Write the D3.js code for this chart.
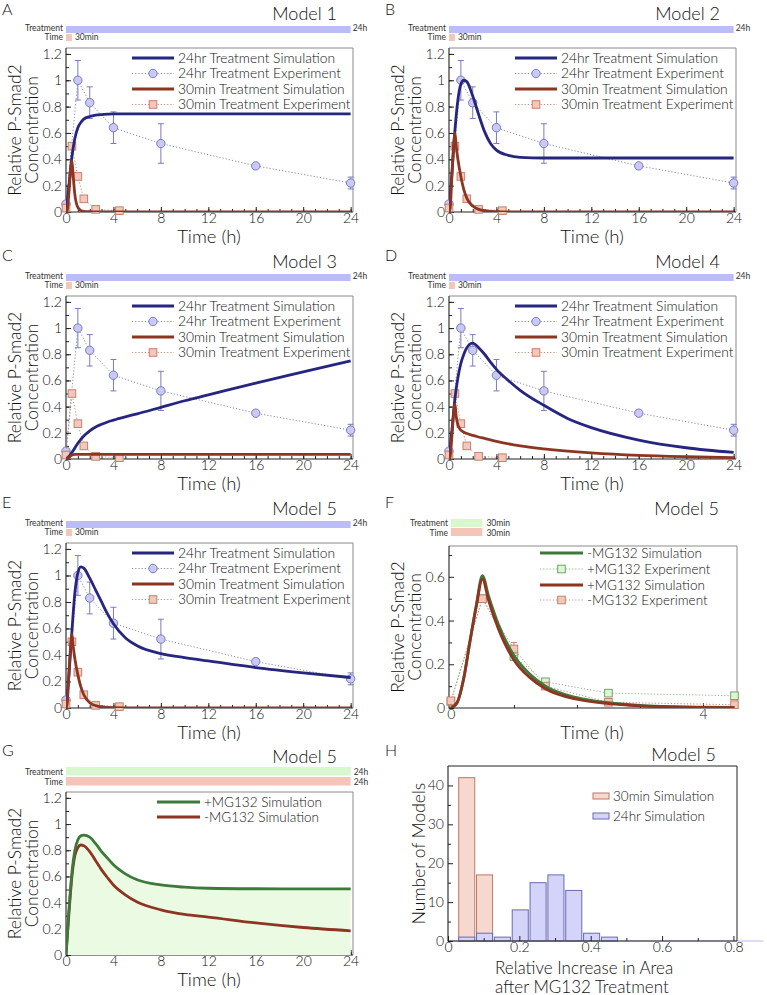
<!DOCTYPE html>
<html><head><meta charset="utf-8">
<script src="https://cdn.jsdelivr.net/npm/d3@7"></script>
<style>
body{margin:0;background:#fff}
svg{display:block}
svg text{font-weight:300}
svg text.small{font-weight:400}
</style></head><body>
<svg id="chart" width="767" height="995"></svg>
<script>
// ---------------- DATA ----------------
const expTimes24 = [0, 1, 2, 4, 8, 16, 24];
const exp24 = [0.06, 1.0, 0.83, 0.64, 0.52, 0.35, 0.22];
const exp24Err = [0.02, 0.15, 0.12, 0.12, 0.15, 0.015, 0.045];
const expTimes30 = [0, 0.5, 1, 1.5, 2.5, 4.5];
const exp30 = [0.03, 0.5, 0.27, 0.10, 0.02, 0.01];
const exp30Err = [0.008, 0.012, 0.02, 0.012, 0.008, 0.006];

const simTimes24 = [0, 0.25, 0.5, 0.75, 1, 1.25, 1.5, 2, 2.5, 3, 3.5, 4, 5, 6, 8, 10, 12, 16, 20, 24];
const simTimes30 = [0, 0.1, 0.25, 0.4, 0.5, 0.6, 0.75, 1, 1.25, 1.5, 2, 2.5, 3, 4, 6, 8, 12, 16, 20, 24];

const m1Sim24 = [0, 0.2, 0.42, 0.56, 0.64, 0.68, 0.705, 0.725, 0.735, 0.74, 0.743, 0.745, 0.745, 0.745, 0.745, 0.745, 0.745, 0.745, 0.745, 0.745];
const m1Sim30 = [0, 0.01, 0.15, 0.33, 0.39, 0.28, 0.13, 0.035, 0.012, 0.005, 0.002, 0.001, 0, 0, 0, 0, 0, 0, 0, 0];
const m2Sim24 = [0, 0.3, 0.62, 0.85, 0.97, 1.0, 0.99, 0.88, 0.74, 0.61, 0.52, 0.47, 0.43, 0.415, 0.41, 0.41, 0.41, 0.41, 0.41, 0.41];
const m2Sim30 = [0, 0.03, 0.28, 0.52, 0.6, 0.51, 0.4, 0.27, 0.17, 0.105, 0.045, 0.02, 0.01, 0.002, 0, 0, 0, 0, 0, 0];
const m3Sim24 = [0, 0.02, 0.05, 0.085, 0.12, 0.15, 0.175, 0.215, 0.245, 0.265, 0.283, 0.297, 0.322, 0.345, 0.395, 0.445, 0.49, 0.58, 0.665, 0.75];
const m3Sim30 = [0, 0.003, 0.012, 0.024, 0.03, 0.033, 0.035, 0.035, 0.035, 0.035, 0.035, 0.035, 0.035, 0.035, 0.035, 0.035, 0.035, 0.035, 0.035, 0.035];
const m4Sim24 = [0, 0.22, 0.46, 0.62, 0.73, 0.8, 0.85, 0.885, 0.85, 0.8, 0.74, 0.685, 0.6, 0.525, 0.41, 0.31, 0.24, 0.145, 0.086, 0.05];
const m4Sim30 = [0, 0.02, 0.18, 0.36, 0.42, 0.33, 0.26, 0.22, 0.205, 0.195, 0.18, 0.168, 0.157, 0.135, 0.1, 0.077, 0.046, 0.027, 0.017, 0.011];
const m5Sim24 = [0, 0.25, 0.58, 0.87, 1.02, 1.065, 1.055, 0.98, 0.89, 0.8, 0.71, 0.635, 0.53, 0.47, 0.41, 0.38, 0.355, 0.305, 0.265, 0.23];
const m5Sim30 = [0, 0.03, 0.27, 0.48, 0.56, 0.47, 0.37, 0.25, 0.16, 0.1, 0.04, 0.018, 0.008, 0.002, 0, 0, 0, 0, 0, 0];

// Panel F (short treatment, +/- MG132)
const fSimTimes = [0, 0.1, 0.2, 0.3, 0.4, 0.5, 0.6, 0.75, 1, 1.25, 1.5, 2, 2.5, 3, 3.5, 4, 4.5];
const fMinusSim = [0, 0.025, 0.13, 0.3, 0.465, 0.605, 0.51, 0.385, 0.24, 0.155, 0.1, 0.047, 0.024, 0.012, 0.006, 0.004, 0.003];
const fPlusSim  = [0, 0.025, 0.13, 0.3, 0.46, 0.59, 0.49, 0.365, 0.22, 0.14, 0.088, 0.04, 0.02, 0.01, 0.005, 0.003, 0.002];
const fExpTimes = [0, 0.5, 1, 1.5, 2.5, 4.5];
const fPlusExp = [0.03, 0.5, 0.235, 0.12, 0.068, 0.056];
const fPlusErr = [0.008, 0.01, 0.015, 0.015, 0.01, 0.012];
const fMinusExp = [0.033, 0.5, 0.27, 0.1, 0.026, 0.015];
const fMinusErr = [0.008, 0.01, 0.03, 0.012, 0.008, 0.008];

// Panel G (24 h, +/- MG132)
const gPlusSim  = [0, 0.35, 0.63, 0.8, 0.88, 0.91, 0.915, 0.9, 0.85, 0.79, 0.74, 0.69, 0.62, 0.575, 0.535, 0.518, 0.51, 0.506, 0.505, 0.505];
const gMinusSim = [0, 0.32, 0.6, 0.76, 0.82, 0.84, 0.835, 0.79, 0.72, 0.65, 0.59, 0.535, 0.46, 0.405, 0.345, 0.31, 0.29, 0.245, 0.21, 0.185];

// Panel H (histogram)
const binLo = [0.03, 0.08, 0.13, 0.18, 0.23, 0.28, 0.33, 0.38, 0.43];
const binHi = [0.075, 0.125, 0.175, 0.225, 0.275, 0.325, 0.375, 0.425, 0.475];
const count30 = [42, 17, 0, 0, 0, 0, 0, 0, 0];
const count24 = [1, 2, 1, 8, 15, 17, 13, 2, 1];

// tick labels
const yTicksMain = [0, 0.2, 0.4, 0.6, 0.8, 1, 1.2];
const xTicksMain = [0, 4, 8, 12, 16, 20, 24];
const yTicksF = [0, 0.2, 0.4, 0.6];
const xTicksF = [0, 4];
const xTicksH = [0, 0.2, 0.4, 0.6, 0.8];
const yTicksH = [0, 10, 20, 30, 40];

// ---------------- STYLE ----------------
const FONT = 'Lato, "Open Sans", sans-serif';
const C = {
  navy: '#262680', red: '#8e3522', green: '#3d7a3a',
  lav: '#bdbdf6', pink: '#f4c6ba', lgreen: '#d8f7cd', gfill: '#ebfbe3',
  circFill: '#c9c9f3', circStroke: '#7b7bc0', circLine: '#8888c4',
  sqFill: '#f3c8bb', sqStroke: '#c4826f', sqLine: '#c48a7a',
  gsqFill: '#dff6d6', gsqStroke: '#6aa864', gsqLine: '#84b67e',
  axis: '#222', box: '#8a8a8a', text: '#111'
};
const BARFONT = 8.5;
const svg = d3.select('#chart').style('font-family', FONT);

function txt(x, y, s, size, anchor) {
  const t = svg.append('text').attr('x', x).attr('y', y).text(s)
    .attr('font-size', size).attr('fill', C.text).attr('text-anchor', anchor || 'start');
  if (size < 10) t.attr('class', 'small').attr('fill', '#333');
  return t;
}

function axes(g, x, y, o) {
  const [yb, yt] = y.range(), [xl, xr] = x.range();
  const fmt = d => String(d);
  const styleAx = s => { s.select('.domain').remove(); s.selectAll('line').attr('stroke', C.axis);
    s.selectAll('text').attr('font-size', o.tickFont || 14).attr('font-family', FONT).attr('fill', C.text); };
  g.append('g').attr('transform', `translate(0,${yb})`)
    .call(d3.axisBottom(x).tickValues(o.xMinor).tickSize(-3).tickFormat('')).call(styleAx);
  g.append('g').attr('transform', `translate(0,${yb})`)
    .call(d3.axisBottom(x).tickValues(o.xMajor).tickSize(-5).tickPadding(o.xPad != null ? o.xPad : 1.5).tickFormat(fmt)).call(styleAx);
  g.append('g').attr('transform', `translate(${xl},0)`)
    .call(d3.axisLeft(y).tickValues(o.yMinor).tickSize(-3).tickFormat('')).call(styleAx);
  g.append('g').attr('transform', `translate(${xl},0)`)
    .call(d3.axisLeft(y).tickValues(o.yMajor).tickSize(-5).tickPadding(4).tickFormat(fmt)).call(styleAx);
  g.append('path').attr('d', `M${xl},${yt}H${xr}V${yb}`).attr('fill', 'none').attr('stroke', o.boxColor || C.box).attr('stroke-width', 1);
  g.append('path').attr('d', `M${xl},${yt}V${yb}H${xr}`).attr('fill', 'none').attr('stroke', C.axis).attr('stroke-width', 1.1);
}

function yTitle(xc, yc, lines, size) {
  lines.forEach((s, i) => {
    svg.append('text').attr('transform', `translate(${xc + i * 17},${yc}) rotate(-90)`)
      .attr('text-anchor', 'middle').attr('font-size', size || 17.5).attr('fill', C.text).text(s);
  });
}

function simLine(g, x, y, ts, vs, color, w) {
  g.append('path').datum(d3.zip(ts, vs))
    .attr('d', d3.line().x(d => x(d[0])).y(d => y(d[1])).curve(d3.curveMonotoneX))
    .attr('fill', 'none').attr('stroke', color).attr('stroke-width', w || 2.8).attr('stroke-linejoin', 'round');
}

function drawMarker(g, cx, cy, marker, fill, stroke) {
  if (marker === 'circle') {
    g.append('circle').attr('cx', cx).attr('cy', cy).attr('r', 4.2).attr('fill', fill).attr('stroke', stroke).attr('stroke-width', 1);
  } else {
    g.append('rect').attr('x', cx - 3.8).attr('y', cy - 3.8).attr('width', 7.6).attr('height', 7.6).attr('fill', fill).attr('stroke', stroke).attr('stroke-width', 1);
  }
}

function expSeries(g, x, y, ts, vs, es, marker, fill, stroke, lineCol) {
  const pts = d3.zip(ts, vs, es);
  g.append('path').datum(pts)
    .attr('d', d3.line().x(d => x(d[0])).y(d => y(d[1])))
    .attr('fill', 'none').attr('stroke', lineCol).attr('stroke-width', 1).attr('stroke-dasharray', '1.2,2');
  pts.forEach(d => {
    const cx = x(d[0]), lo = y(d[1] - d[2]), hi = y(d[1] + d[2]);
    g.append('path').attr('d', `M${cx},${lo}V${hi}M${cx - 3},${lo}H${cx + 3}M${cx - 3},${hi}H${cx + 3}`)
      .attr('stroke', stroke).attr('stroke-width', 1).attr('fill', 'none');
  });
  pts.forEach(d => drawMarker(g, x(d[0]), y(d[1]), marker, fill, stroke));
}

function legend(g, x0, x1, tx, rows, items, size) {
  items.forEach((it, i) => {
    const cy = rows[i];
    if (it.kind === 'sim') {
      g.append('line').attr('x1', x0).attr('x2', x1).attr('y1', cy).attr('y2', cy).attr('stroke', it.color).attr('stroke-width', 3);
    } else {
      g.append('line').attr('x1', x0).attr('x2', x1).attr('y1', cy).attr('y2', cy).attr('stroke', it.line).attr('stroke-width', 1).attr('stroke-dasharray', '1.2,2');
      drawMarker(g, (x0 + x1) / 2, cy, it.marker, it.fill, it.stroke);
    }
    g.append('text').attr('x', tx).attr('y', cy).attr('dy', '0.35em').attr('font-size', size || 13.8).attr('fill', C.text).text(it.label);
  });
}

function clipG(id, x, y) {
  const [xl, xr] = x.range(), [yb, yt] = y.range();
  svg.append('clipPath').attr('id', id).append('rect').attr('x', xl).attr('y', yt).attr('width', xr - xl).attr('height', yb - yt);
  return svg.append('g').attr('clip-path', `url(#${id})`);
}

// ---------------- PANELS A–E ----------------
const mainPanels = [
  { ox: 0,   top: 48,  bottom: 212, letter: 'A', letterY: 15,  title: 'Model 1', s24: m1Sim24, s30: m1Sim30 },
  { ox: 383, top: 48,  bottom: 212, letter: 'B', letterY: 15,  title: 'Model 2', s24: m2Sim24, s30: m2Sim30 },
  { ox: 0,   top: 296, bottom: 459, letter: 'C', letterY: 261, title: 'Model 3', s24: m3Sim24, s30: m3Sim30 },
  { ox: 383, top: 296, bottom: 459, letter: 'D', letterY: 261, title: 'Model 4', s24: m4Sim24, s30: m4Sim30 },
  { ox: 0,   top: 543, bottom: 708, letter: 'E', letterY: 508, title: 'Model 5', s24: m5Sim24, s30: m5Sim30 }
];

mainPanels.forEach(p => {
  const x = d3.scaleLinear().domain([0, 24.2]).range([p.ox + 66, p.ox + 353]);
  const y = d3.scaleLinear().domain([0, 1.245]).range([p.bottom, p.top]);
  const g = svg.append('g');
  txt(p.ox + 2, p.letterY, p.letter, 16);
  txt(p.ox + 337, p.top - 28, p.title, 18, 'end');
  g.append('rect').attr('x', x(0)).attr('y', p.top - 22).attr('width', x(24) - x(0)).attr('height', 7).attr('fill', C.lav);
  g.append('rect').attr('x', x(0)).attr('y', p.top - 14).attr('width', x(0.5) - x(0)).attr('height', 7).attr('fill', C.pink);
  txt(p.ox + 63, p.top - 17, 'Treatment', BARFONT, 'end');
  txt(p.ox + 63, p.top - 8, 'Time', BARFONT, 'end');
  txt(x(24) + 2, p.top - 17, '24h', BARFONT);
  txt(x(0.5) + 3, p.top - 8, '30min', BARFONT);

  axes(g, x, y, { xMajor: xTicksMain, xMinor: d3.range(0, 25, 1), yMajor: yTicksMain, yMinor: y.ticks(12) });
  yTitle(p.ox + 20.5, (p.top + p.bottom) / 2, ['Relative P-Smad2', 'Concentration']);
  txt(p.ox + 209, p.bottom + 31, 'Time (h)', 18.5, 'middle');

  const cg = clipG('clip' + p.letter, x, y);
  simLine(cg, x, y, simTimes24, p.s24, C.navy);
  simLine(cg, x, y, simTimes30, p.s30, C.red);
  expSeries(g, x, y, expTimes24, exp24, exp24Err, 'circle', C.circFill, C.circStroke, C.circLine);
  expSeries(g, x, y, expTimes30, exp30, exp30Err, 'square', C.sqFill, C.sqStroke, C.sqLine);

  legend(g, p.ox + 132, p.ox + 174, p.ox + 178, [p.top + 10, p.top + 25.5, p.top + 41, p.top + 56.5], [
    { kind: 'sim', color: C.navy, label: '24hr Treatment Simulation' },
    { kind: 'exp', marker: 'circle', fill: C.circFill, stroke: C.circStroke, line: C.circLine, label: '24hr Treatment Experiment' },
    { kind: 'sim', color: C.red, label: '30min Treatment Simulation' },
    { kind: 'exp', marker: 'square', fill: C.sqFill, stroke: C.sqStroke, line: C.sqLine, label: '30min Treatment Experiment' }
  ]);
});

// ---------------- PANEL F ----------------
(function () {
  const ox = 383, top = 546, bottom = 708;
  const x = d3.scaleLinear().domain([-0.03, 4.54]).range([ox + 66, ox + 354]);
  const y = d3.scaleLinear().domain([0, 0.741]).range([bottom, top]);
  const g = svg.append('g');
  txt(ox + 2, 508, 'F', 16);
  txt(ox + 336, 515, 'Model 5', 18, 'end');
  g.append('rect').attr('x', x(0)).attr('y', 519).attr('width', x(0.5) - x(0)).attr('height', 8).attr('fill', C.lgreen);
  g.append('rect').attr('x', x(0)).attr('y', 528).attr('width', x(0.5) - x(0)).attr('height', 8).attr('fill', C.pink);
  txt(ox + 65, 526, 'Treatment', BARFONT, 'end');
  txt(ox + 65, 535.5, 'Time', BARFONT, 'end');
  txt(x(0.5) + 4, 526, '30min', BARFONT);
  txt(x(0.5) + 4, 535.5, '30min', BARFONT);

  axes(g, x, y, { xMajor: xTicksF, xMinor: [1, 2, 3], yMajor: yTicksF, yMinor: [0.1, 0.3, 0.5, 0.7] });
  yTitle(ox + 20.5, (top + bottom) / 2, ['Relative P-Smad2', 'Concentration']);
  txt(ox + 209, bottom + 31, 'Time (h)', 18.5, 'middle');

  const cg = clipG('clipF', x, y);
  simLine(cg, x, y, fSimTimes, fMinusSim, C.green);
  simLine(cg, x, y, fSimTimes, fPlusSim, C.red);
  expSeries(g, x, y, fExpTimes, fPlusExp, fPlusErr, 'square', C.gsqFill, C.gsqStroke, C.gsqLine);
  expSeries(g, x, y, fExpTimes, fMinusExp, fMinusErr, 'square', C.sqFill, C.sqStroke, C.sqLine);

  legend(g, ox + 157, ox + 200, ox + 204, [top + 7, top + 23, top + 39, top + 54], [
    { kind: 'sim', color: C.green, label: '-MG132 Simulation' },
    { kind: 'exp', marker: 'square', fill: C.gsqFill, stroke: C.gsqStroke, line: C.gsqLine, label: '+MG132 Experiment' },
    { kind: 'sim', color: C.red, label: '+MG132 Simulation' },
    { kind: 'exp', marker: 'square', fill: C.sqFill, stroke: C.sqStroke, line: C.sqLine, label: '-MG132 Experiment' }
  ], 13.5);
})();

// ---------------- PANEL G ----------------
(function () {
  const ox = 0, top = 792, bottom = 955;
  const x = d3.scaleLinear().domain([0, 24.2]).range([ox + 66, ox + 353]);
  const y = d3.scaleLinear().domain([0, 1.245]).range([bottom, top]);
  const g = svg.append('g');
  txt(ox + 2, 756, 'G', 16);
  txt(ox + 337, 763, 'Model 5', 18, 'end');
  g.append('rect').attr('x', x(0)).attr('y', 767).attr('width', x(24) - x(0)).attr('height', 8.5).attr('fill', C.lgreen);
  g.append('rect').attr('x', x(0)).attr('y', 777).attr('width', x(24) - x(0)).attr('height', 8.5).attr('fill', C.pink);
  txt(ox + 63, 774.5, 'Treatment', BARFONT, 'end');
  txt(ox + 63, 784.5, 'Time', BARFONT, 'end');
  txt(x(24) + 3, 774.5, '24h', BARFONT);
  txt(x(24) + 3, 784.5, '24h', BARFONT);

  const cg = clipG('clipG', x, y);
  cg.append('path').datum(d3.zip(simTimes24, gPlusSim))
    .attr('d', d3.area().x(d => x(d[0])).y0(y(0)).y1(d => y(d[1])).curve(d3.curveMonotoneX))
    .attr('fill', C.gfill);
  axes(g, x, y, { xMajor: xTicksMain, xMinor: d3.range(0, 25, 1), yMajor: yTicksMain, yMinor: y.ticks(12) });
  yTitle(ox + 20.5, (top + bottom) / 2, ['Relative P-Smad2', 'Concentration']);
  txt(ox + 209, bottom + 31, 'Time (h)', 18.5, 'middle');
  const cg2 = clipG('clipG2', x, y);
  simLine(cg2, x, y, simTimes24, gMinusSim, C.red);
  simLine(cg2, x, y, simTimes24, gPlusSim, C.green);
  legend(g, ox + 157, ox + 200, ox + 204, [top + 10, top + 25], [
    { kind: 'sim', color: C.green, label: '+MG132 Simulation' },
    { kind: 'sim', color: C.red, label: '-MG132 Simulation' }
  ], 13.5);
})();

// ---------------- PANEL H ----------------
(function () {
  const ox = 383;
  const x = d3.scaleLinear().domain([0, 0.81]).range([448, 737]);
  const y = d3.scaleLinear().domain([0, 45]).range([941, 766]);
  const g = svg.append('g');
  txt(ox + 2, 756, 'H', 16);
  txt(ox + 333, 761, 'Model 5', 18, 'end');
  g.append('line').attr('x1', x(0)).attr('x2', 763).attr('y1', y(0)).attr('y2', y(0)).attr('stroke', '#d0d0f4').attr('stroke-width', 1.5);
  const bars = (counts, fill, stroke) => {
    counts.forEach((c, i) => {
      if (!c) return;
      g.append('rect').attr('x', x(binLo[i])).attr('width', x(binHi[i]) - x(binLo[i]))
        .attr('y', y(c)).attr('height', y(0) - y(c))
        .attr('fill', fill).attr('stroke', stroke).attr('stroke-width', 1);
    });
  };
  bars(count30, '#f7d8ce', '#b8786a');
  bars(count24, '#d4d4fa', '#6a6ab0');
  axes(g, x, y, { xMajor: xTicksH, xMinor: [0.1, 0.3, 0.5, 0.7], yMajor: yTicksH, yMinor: [5, 15, 25, 35], boxColor: C.axis, xPad: 1 });
  yTitle(ox + 42, (766 + 941) / 2, ['Number of Models']);
  txt(495, 973.5, 'Relative Increase in Area', 17);
  txt(495, 992.5, 'after MG132 Treatment', 17);
  const lg = [{ label: '30min Simulation', fill: '#f7d8ce', stroke: '#b8786a' }, { label: '24hr Simulation', fill: '#d4d4fa', stroke: '#6a6ab0' }];
  lg.forEach((d, i) => {
    const cy = 796 + i * 20;
    g.append('rect').attr('x', 593).attr('y', cy - 3).attr('width', 16).attr('height', 6).attr('fill', d.fill).attr('stroke', d.stroke);
    g.append('text').attr('x', 613).attr('y', cy).attr('dy', '0.35em').attr('font-size', 13.5).attr('fill', C.text).text(d.label);
  });
})();
</script>
</body></html>
